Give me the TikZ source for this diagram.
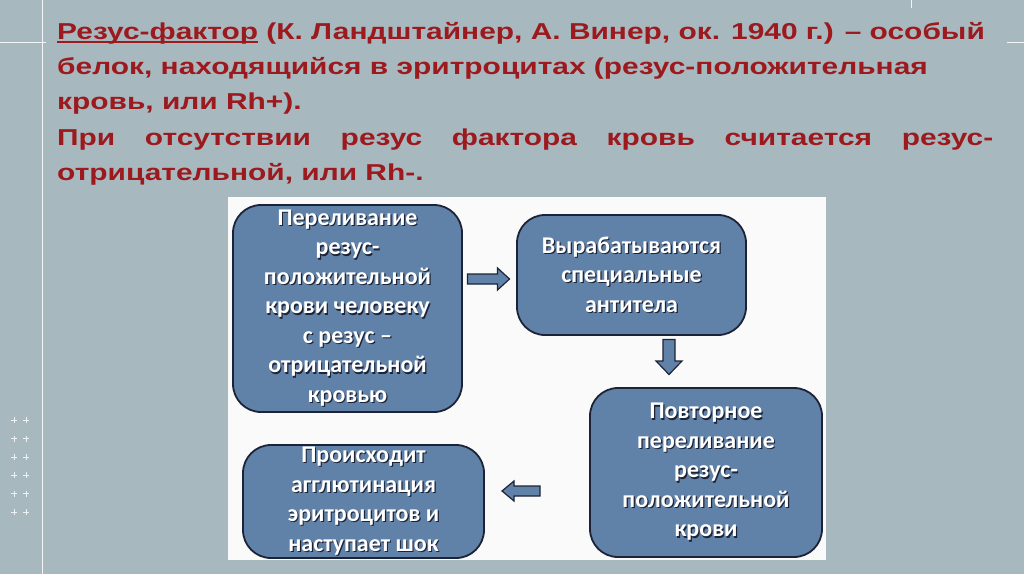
\documentclass[tikz,border=0pt]{standalone}
\usepackage{fontspec}
\setmainfont{Liberation Sans}[FakeStretch=1.3]
\newfontfamily\boxfont{Carlito}
\definecolor{slidebg}{HTML}{A8B8BF}
\definecolor{titlered}{HTML}{9C1A1E}
\definecolor{boxblue}{HTML}{6182A8}
\definecolor{boxline}{HTML}{1C2336}
% white text with a dark drop shadow
\newcommand{\shd}[1]{\makebox[0pt][l]{\hspace{1.2pt}\raisebox{-1.2pt}{\color{boxline}#1}}#1}
% thick underline in the text colour
\newcommand{\thickul}[1]{\setbox0\hbox{#1}\rlap{\rule[-4pt]{\wd0}{1.8pt}}\box0\relax}
\tikzset{
  stepbox/.style={draw=boxline, line width=1.8pt, fill=boxblue, rounded corners=28pt,
    text=white, align=center, inner sep=0pt,
    font=\boxfont\bfseries\fontsize{24}{29.5}\selectfont},
  arrowfill/.style={draw=boxline, line width=1.2pt, fill=boxblue, line join=miter},
  titleline/.style={anchor=base west, inner sep=0pt, text=titlered,
    font=\bfseries\fontsize{23}{34}\selectfont}
}
\begin{document}
\begin{tikzpicture}[x=1pt,y=-1pt]
	\useasboundingbox (0,0) rectangle (1024,574);
	\fill[slidebg] (0,0) rectangle (1024,574);
	% thin white guide lines
	\draw[white!85!slidebg, line width=1pt]
	(42,0) -- (42,574)
	(0,42) -- (46,42)
	(911,0) -- (911,8)
	(1007,42) -- (1024,42);
	\foreach \yy in {420,438.5,457,475,493.5,512} {
		\foreach \xx in {14,26} {
			\draw[white!80!slidebg, line width=0.9pt]
			(\xx-3,\yy) -- (\xx+3,\yy)
			(\xx,\yy-3) -- (\xx,\yy+3);
		}
	}
	% title
	\node[titleline] (t1) at (57,39) {\thickul{Резус-фактор} (К. Ландштайнер, А. Винер, ок. 1940 г.) – особый};
	\node[titleline] (t2) at (57,74) {белок, находящийся в эритроцитах (резус-положительная};
	\node[titleline] (t3) at (57,109) {кровь, или Rh+).};
	\node[titleline] (t4) at (57,145) {\makebox[936pt][s]{При отсутствии резус фактора кровь считается резус-}};
	\node[titleline] (t5) at (57,180) {отрицательной, или Rh-.};
	% diagram panel
	\fill[white!98!black] (228,197) rectangle (826,560);
	\node[stepbox, minimum width=229pt, minimum height=207pt] (b1) at (347.5,308.5)
	{\shd{Переливание}\\\shd{резус-}\\\shd{положительной}\\\shd{крови человеку}\\\shd{с резус –}\\\shd{отрицательной}\\\shd{кровью}};
	\node[stepbox, minimum width=229pt, minimum height=120pt] (b2) at (631.5,275)
	{\shd{Вырабатываются}\\\shd{специальные}\\\shd{антитела}};
	\node[stepbox, minimum width=232pt, minimum height=169pt] (b3) at (706,472.5)
	{\shd{Повторное}\\\shd{переливание}\\\shd{резус-}\\\shd{положительной}\\\shd{крови}};
	\node[stepbox, minimum width=241pt, minimum height=113pt] (b4) at (363.5,501.5)
	{\shd{Происходит}\\\shd{агглютинация}\\\shd{эритроцитов и}\\\shd{наступает шок}};
	% block arrows between the boxes
	\draw[arrowfill, shift={(488.5,279)}]
	(-21,-5) -- (9,-5) -- (9,-11) -- (21,0) -- (9,11) -- (9,5) -- (-21,5) -- cycle;
	\draw[arrowfill, shift={(669,357)}, rotate=-90]
	(-17.5,-6) -- (4,-6) -- (4,-13) -- (17.5,0) -- (4,13) -- (4,6) -- (-17.5,6) -- cycle;
	\draw[arrowfill, shift={(521,491)}, rotate=180]
	(-19,-5) -- (7,-5) -- (7,-10) -- (19,0) -- (7,10) -- (7,5) -- (-19,5) -- cycle;
\end{tikzpicture}
\end{document}
